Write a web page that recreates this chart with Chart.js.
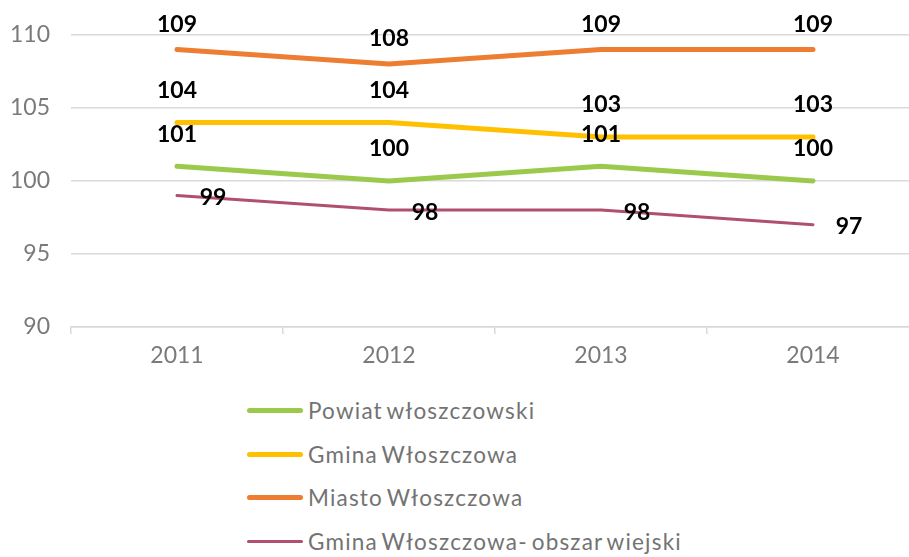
<!DOCTYPE html>
<html>
<head>
<meta charset="utf-8">
<script src="https://cdn.jsdelivr.net/npm/chart.js@4/dist/chart.umd.min.js"></script>
<style>
	html, body { margin: 0; padding: 0; background: #fff; overflow: hidden; width: 909px; height: 557px; }
	#wrap { position: absolute; left: 0; top: 0; width: 920px; height: 385px; }
	#legend { position: absolute; left: 247px; top: 389px; font-family: "Lato", sans-serif; font-size: 22.5px; letter-spacing: 1.2px; word-spacing: -3px; color: #737373; }
	.item { display: flex; align-items: center; height: 43.6px; }
	.swatch { width: 56px; border-radius: 3px; margin-right: 5px; }
</style>
</head>
<body>
<div id="wrap"><canvas id="linechart"></canvas></div>
<div id="legend"></div>
<script>
const years = ['2011', '2012', '2013', '2014'];
const powiat = [101, 100, 101, 100];
const gmina = [104, 104, 103, 103];
const miasto = [109, 108, 109, 109];
const wiejski = [99, 98, 98, 97];
const yTicks = [90, 95, 100, 105, 110];

// draws the value next to each point, offset per dataset
const valueLabels = {
	id: 'valueLabels',
	afterDatasetsDraw(chart) {
		const ctx = chart.ctx;
		ctx.save();
		ctx.font = 'bold 23px Lato, sans-serif';
		ctx.fillStyle = '#000';
		ctx.textAlign = 'center';
		ctx.textBaseline = 'middle';
		chart.data.datasets.forEach((ds, i) => {
			const off = ds.labelOffset || [0, -32];
			chart.getDatasetMeta(i).data.forEach((pt, j) => {
				ctx.fillText(ds.data[j], pt.x + off[0], pt.y + off[1]);
			});
		});
		ctx.restore();
	}
};

const chart = new Chart(document.getElementById("linechart"), {
	type: 'line',
	data: {
		labels: years,
		datasets: [{
			label: 'Powiat włoszczowski',
			data: powiat,
			borderColor: "#9BC94B",
			borderWidth: 5,
		}, {
			label: 'Gmina Włoszczowa',
			data: gmina,
			borderColor: "#FFC000",
			borderWidth: 5,
		}, {
			label: 'Miasto Włoszczowa',
			data: miasto,
			borderColor: "#ED7D31",
			borderWidth: 5,
			labelOffset: [0, -25],
		}, {
			label: 'Gmina Włoszczowa- obszar wiejski',
			data: wiejski,
			borderColor: "#B0506C",
			borderWidth: 3,
			labelOffset: [36, 2],
		}]
	},
	options: {
		responsive: true,
		maintainAspectRatio: false,
		animation: false,
		layout: { padding: { top: 31, right: 1, left: 0, bottom: 0 } },
		elements: {
			point: { radius: 0 },
			line: { borderCapStyle: 'round', borderJoinStyle: 'round', tension: 0 }
		},
		plugins: {
			legend: { display: false },
			tooltip: { enabled: false }
		},
		scales: {
			x: {
				offset: true,
				grid: { offset: true, drawOnChartArea: false, drawTicks: true, tickLength: 7, color: '#D9D9D9', lineWidth: 1.5 },
				border: { color: '#D9D9D9', width: 1.5 },
				ticks: { color: '#7a7a7a', font: { family: 'Lato', size: 23 }, padding: 8 },
				afterFit(axis) { axis.height = 58; }
			},
			y: {
				min: 90,
				max: 110,
				afterBuildTicks(axis) { axis.ticks = yTicks.map(v => ({ value: v })); },
				grid: { color: '#D9D9D9', lineWidth: 1.5, drawTicks: false },
				border: { display: false },
				ticks: { color: '#7a7a7a', font: { family: 'Lato', size: 23 }, padding: 21 },
				afterFit(axis) { axis.width = 71; }
			}
		}
	},
	plugins: [valueLabels]
});

const legend = document.getElementById('legend');
chart.data.datasets.forEach(ds => {
	const row = document.createElement('div');
	row.className = 'item';
	const sw = document.createElement('span');
	sw.className = 'swatch';
	sw.style.height = ds.borderWidth + 'px';
	sw.style.background = ds.borderColor;
	const txt = document.createElement('span');
	txt.textContent = ds.label;
	row.appendChild(sw);
	row.appendChild(txt);
	legend.appendChild(row);
});
</script>
</body>
</html>
